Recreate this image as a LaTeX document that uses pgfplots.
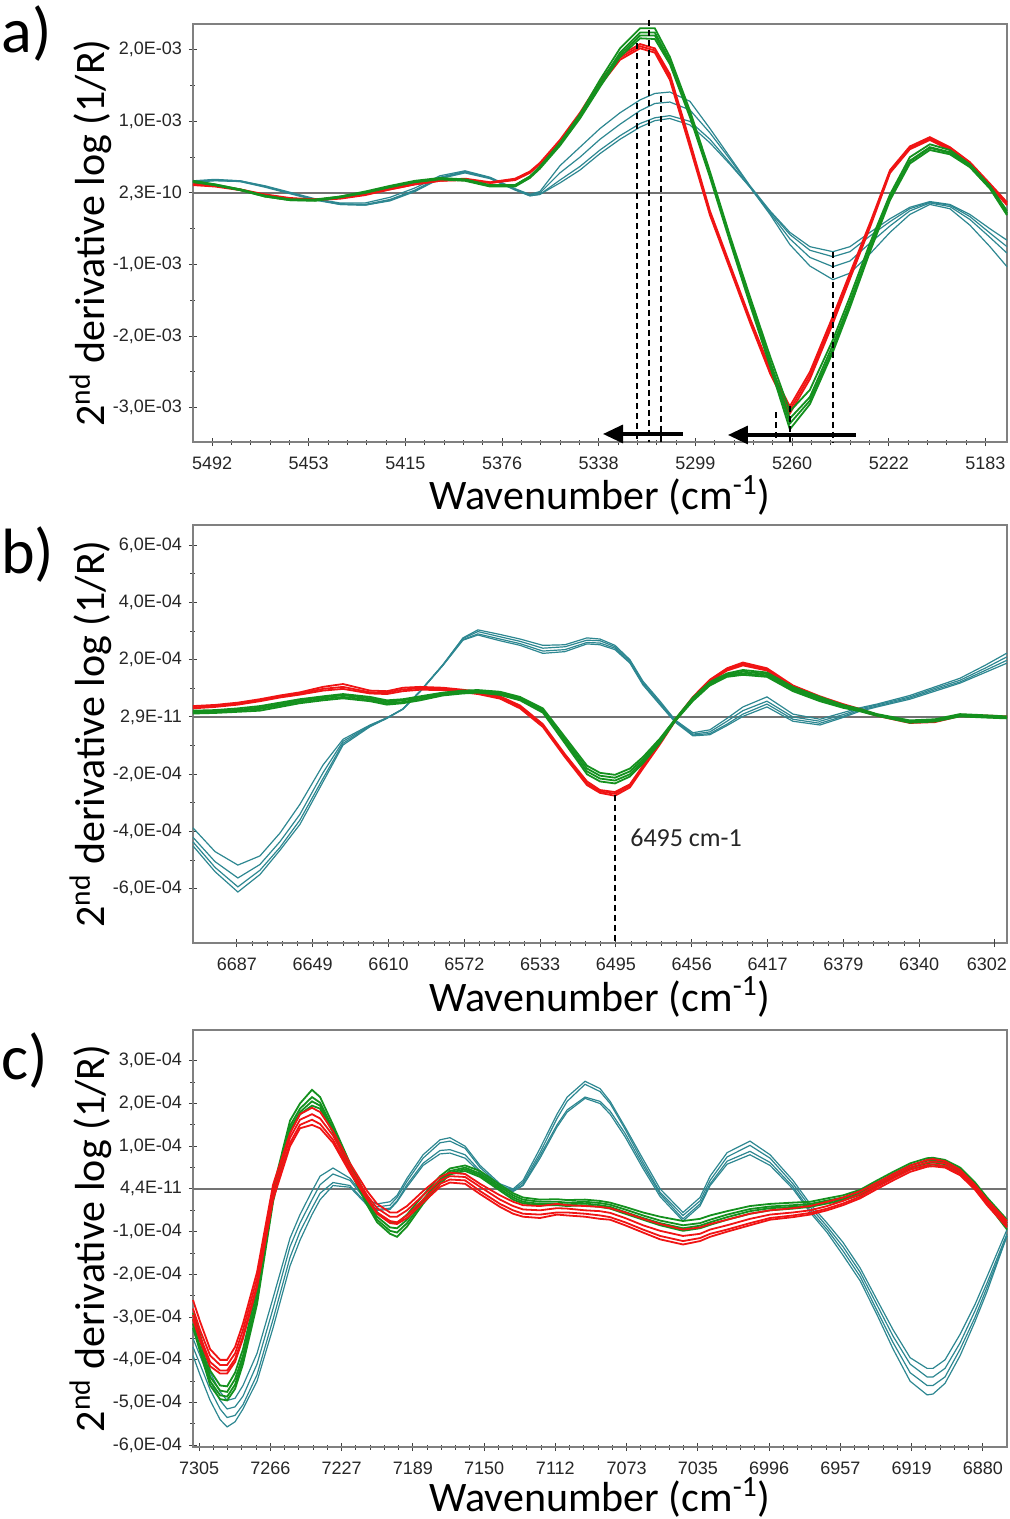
\documentclass[border=0pt]{standalone}
\usepackage{fontspec}
\setmainfont{Liberation Sans}
\newfontfamily\carlito{Carlito}
\usepackage{pgfplots}
\pgfplotsset{compat=1.18}
\usepackage{pgfplotstable}
\usetikzlibrary{arrows.meta}

\definecolor{specteal}{RGB}{45,135,145}
\definecolor{specred}{RGB}{240,20,20}
\definecolor{specgreen}{RGB}{20,145,30}

% panel a: y in 1E-03, columns t = teal, r = red, g = green
\pgfplotstableread{
w      t1    t2    t3    t4    r1    r2    r3    g1    g2    g3    g4
5499.6 0.17  0.16  0.15  0.16  0.13  0.12  0.11  0.17  0.16  0.15  0.16
5490.8 0.19  0.18  0.17  0.18  0.10  0.10  0.09  0.12  0.11  0.11  0.12
5480.8 0.17  0.17  0.16  0.16  0.05  0.05  0.04  0.05  0.04  0.04  0.05
5470.8 0.10  0.09  0.09  0.08  -0.02 -0.03 -0.03 -0.04 -0.05 -0.05 -0.04
5460.9 0.01  0.00  0.00  -0.01 -0.07 -0.08 -0.08 -0.09 -0.10 -0.10 -0.09
5450.9 -0.08 -0.09 -0.09 -0.10 -0.09 -0.09 -0.10 -0.09 -0.10 -0.11 -0.10
5440.9 -0.14 -0.15 -0.16 -0.16 -0.07 -0.07 -0.08 -0.05 -0.06 -0.06 -0.05
5430.9 -0.14 -0.16 -0.17 -0.17 -0.02 -0.02 -0.03 0.02  0.01  0.00  0.01
5420.9 -0.06 -0.09 -0.10 -0.11 0.06  0.05  0.05  0.10  0.09  0.08  0.09
5411.0 0.07  0.04  0.03  0.02  0.13  0.12  0.12  0.17  0.16  0.15  0.16
5401.0 0.24  0.22  0.21  0.20  0.18  0.17  0.17  0.21  0.20  0.19  0.20
5391.0 0.31  0.30  0.29  0.28  0.20  0.19  0.18  0.19  0.18  0.17  0.18
5381.0 0.22  0.21  0.21  0.20  0.15  0.14  0.14  0.11  0.10  0.09  0.10
5371.0 0.06  0.05  0.05  0.04  0.20  0.19  0.18  0.11  0.10  0.09  0.11
5365.1 -0.02 -0.03 -0.04 -0.04 0.30  0.29  0.28  0.23  0.22  0.21  0.23
5361.1 0.02  0.00  -0.02 -0.02 0.42  0.41  0.40  0.37  0.36  0.34  0.36
5353.1 0.38  0.28  0.18  0.14  0.74  0.72  0.70  0.70  0.68  0.66  0.68
5345.1 0.64  0.50  0.37  0.32  1.12  1.10  1.08  1.10  1.07  1.04  1.06
5337.1 0.90  0.75  0.60  0.55  1.56  1.53  1.50  1.58  1.53  1.48  1.52
5329.1 1.12  0.96  0.80  0.75  1.92  1.89  1.86  2.02  1.96  1.90  1.93
5321.1 1.30  1.15  0.97  0.92  2.08  2.05  2.02  2.30  2.24  2.16  2.20
5315.2 1.39  1.25  1.05  1.01  2.02  1.99  1.96  2.30  2.24  2.15  2.20
5309.2 1.41  1.27  1.08  1.04  1.66  1.62  1.58  1.90  1.85  1.80  1.83
5301.2 1.28  1.16  1.00  0.95  0.72  0.68  0.64  1.15  1.10  1.06  1.09
5293.2 0.90  0.84  0.75  0.70  -0.25 -0.28 -0.31 0.30  0.26  0.22  0.25
5285.2 0.50  0.47  0.42  0.40  -1.00 -1.03 -1.06 -0.60 -0.63 -0.68 -0.65
5277.2 0.10  0.09  0.08  0.08  -1.75 -1.78 -1.81 -1.45 -1.50 -1.56 -1.53
5269.2 -0.25 -0.26 -0.28 -0.30 -2.45 -2.48 -2.52 -2.28 -2.35 -2.42 -2.38
5261.3 -0.55 -0.58 -0.64 -0.72 -2.98 -3.03 -3.08 -3.05 -3.15 -3.30 -3.22
5253.3 -0.75 -0.80 -0.90 -1.02 -2.50 -2.55 -2.60 -2.75 -2.85 -2.95 -2.90
5244.1 -0.82 -0.89 -1.03 -1.21 -1.72 -1.77 -1.82 -2.05 -2.12 -2.22 -2.18
5237.3 -0.75 -0.82 -0.95 -1.12 -1.12 -1.16 -1.20 -1.45 -1.52 -1.60 -1.56
5229.3 -0.55 -0.60 -0.70 -0.85 -0.42 -0.45 -0.48 -0.70 -0.76 -0.82 -0.78
5221.3 -0.36 -0.40 -0.46 -0.55 0.32  0.30  0.28  -0.02 -0.06 -0.10 -0.07
5213.4 -0.20 -0.22 -0.25 -0.30 0.65  0.63  0.61  0.50  0.45  0.41  0.44
5205.4 -0.12 -0.13 -0.14 -0.16 0.78  0.76  0.74  0.68  0.64  0.60  0.63
5197.4 -0.16 -0.17 -0.19 -0.22 0.64  0.62  0.60  0.60  0.57  0.54  0.56
5189.4 -0.30 -0.33 -0.37 -0.45 0.43  0.41  0.39  0.40  0.38  0.36  0.37
5181.4 -0.50 -0.56 -0.62 -0.75 0.13  0.11  0.09  0.10  0.08  0.06  0.07
5174.6 -0.66 -0.75 -0.84 -1.03 -0.13 -0.15 -0.17 -0.25 -0.28 -0.31 -0.29
}\tabA

% panel b: y in 1E-04
\pgfplotstableread{
w      t1    t2    t3    t4    r1    r2    r3    g1    g2    g3    g4
6709.3 -3.87 -4.20 -4.36 -4.50 0.38  0.33  0.30  0.22  0.18  0.15  0.12
6698.1 -4.70 -5.05 -5.25 -5.40 0.42  0.38  0.35  0.24  0.20  0.17  0.14
6686.5 -5.17 -5.62 -5.93 -6.11 0.50  0.46  0.43  0.30  0.25  0.22  0.18
6675.3 -4.85 -5.15 -5.35 -5.50 0.62  0.58  0.55  0.38  0.33  0.28  0.22
6665.1 -4.05 -4.35 -4.55 -4.65 0.75  0.71  0.68  0.50  0.45  0.40  0.35
6655.0 -3.05 -3.40 -3.60 -3.75 0.86  0.82  0.78  0.62  0.58  0.53  0.48
6643.3 -1.68 -1.95 -2.15 -2.27 1.05  0.98  0.92  0.72  0.68  0.63  0.58
6633.1 -0.78 -0.85 -0.92 -0.98 1.15  1.05  0.98  0.80  0.76  0.70  0.65
6619.4 -0.28 -0.30 -0.32 -0.34 0.92  0.86  0.82  0.70  0.65  0.60  0.55
6610.8 -0.03 -0.03 -0.04 -0.05 0.90  0.85  0.80  0.58  0.53  0.48  0.43
6602.7 0.28  0.28  0.27  0.27  1.02  0.96  0.90  0.62  0.58  0.52  0.48
6594.0 0.90  0.90  0.88  0.88  1.05  1.00  0.95  0.72  0.68  0.63  0.58
6582.4 1.82  1.82  1.80  1.80  1.02  0.98  0.94  0.85  0.82  0.78  0.75
6572.2 2.76  2.74  2.70  2.68  0.95  0.90  0.86  0.92  0.88  0.85  0.82
6564.6 3.04  2.98  2.90  2.86  0.88  0.84  0.80  0.94  0.91  0.88  0.85
6553.4 2.88  2.80  2.72  2.66  0.72  0.68  0.64  0.88  0.84  0.80  0.77
6543.2 2.72  2.64  2.56  2.50  0.40  0.35  0.30  0.70  0.66  0.62  0.58
6531.6 2.50  2.40  2.30  2.22  -0.25 -0.30 -0.35 0.30  0.25  0.20  0.15
6520.4 2.52  2.45  2.35  2.28  -1.30 -1.35 -1.40 -0.70 -0.78 -0.85 -0.92
6509.2 2.76  2.68  2.60  2.55  -2.25 -2.32 -2.38 -1.70 -1.80 -1.90 -2.00
6502.6 2.72  2.66  2.58  2.52  -2.55 -2.60 -2.65 -1.95 -2.05 -2.15 -2.25
6495.0 2.50  2.45  2.40  2.35  -2.62 -2.68 -2.75 -2.02 -2.12 -2.22 -2.32
6487.4 2.00  1.95  1.90  1.88  -2.35 -2.40 -2.46 -1.80 -1.90 -2.00 -2.08
6480.8 1.25  1.20  1.15  1.12  -1.70 -1.75 -1.80 -1.40 -1.48 -1.55 -1.62
6472.1 0.55  0.50  0.45  0.42  -0.85 -0.90 -0.95 -0.75 -0.80 -0.85 -0.90
6464.5 -0.10 -0.12 -0.15 -0.18 -0.10 -0.12 -0.15 -0.08 -0.10 -0.12 -0.15
6455.4 -0.55 -0.60 -0.63 -0.66 0.70  0.66  0.62  0.68  0.64  0.60  0.56
6446.8 -0.45 -0.52 -0.58 -0.62 1.30  1.27  1.24  1.22  1.18  1.14  1.10
6438.1 -0.05 -0.15 -0.25 -0.30 1.70  1.66  1.62  1.52  1.48  1.44  1.40
6430.0 0.35  0.22  0.10  0.02  1.90  1.85  1.80  1.64  1.58  1.52  1.47
6417.8 0.70  0.55  0.45  0.35  1.70  1.66  1.62  1.55  1.50  1.45  1.40
6404.6 0.10  0.00  -0.08 -0.15 1.10  1.05  1.00  1.05  1.00  0.95  0.90
6390.9 -0.08 -0.15 -0.22 -0.28 0.72  0.68  0.64  0.70  0.65  0.60  0.55
6379.2 0.15  0.08  0.02  -0.02 0.45  0.41  0.38  0.42  0.38  0.35  0.32
6370.6 0.32  0.28  0.24  0.20  0.28  0.25  0.22  0.28  0.25  0.22  0.20
6361.9 0.45  0.42  0.38  0.35  0.08  0.06  0.04  0.10  0.08  0.06  0.04
6345.2 0.75  0.70  0.66  0.62  -0.15 -0.18 -0.21 -0.12 -0.15 -0.18 -0.20
6332.5 1.05  1.00  0.95  0.90  -0.12 -0.15 -0.18 -0.08 -0.11 -0.14 -0.16
6319.8 1.35  1.28  1.22  1.18  0.08  0.05  0.03  0.10  0.07  0.04  0.02
6307.1 1.80  1.70  1.62  1.55  0.05  0.02  0.00  0.06  0.03  0.00  -0.02
6295.9 2.23  2.10  1.98  1.88  0.02  -0.01 -0.03 0.02  -0.01 -0.03 -0.05
}\tabB

% panel c: y in 1E-04
\pgfplotstableread{
w      t1    t2    t3    t4    r1    r2    r3    r4    g1    g2    g3    g4
7308.3 -3.30 -3.50 -3.70 -3.90 -2.60 -2.80 -2.95 -3.05 -2.90 -3.05 -3.15 -3.25
7304.5 -3.70 -3.90 -4.10 -4.35 -3.10 -3.30 -3.45 -3.55 -3.40 -3.55 -3.70 -3.80
7299.0 -4.30 -4.50 -4.70 -4.95 -3.75 -3.90 -4.05 -4.15 -4.25 -4.40 -4.50 -4.60
7293.6 -4.75 -4.95 -5.15 -5.40 -4.00 -4.12 -4.25 -4.32 -4.60 -4.72 -4.83 -4.92
7289.8 -4.95 -5.15 -5.35 -5.57 -4.00 -4.12 -4.25 -4.32 -4.62 -4.75 -4.86 -4.95
7285.5 -4.90 -5.10 -5.30 -5.45 -3.70 -3.85 -3.98 -4.05 -4.30 -4.45 -4.58 -4.68
7281.2 -4.60 -4.85 -5.05 -5.15 -3.15 -3.30 -3.45 -3.50 -3.75 -3.90 -4.00 -4.10
7273.6 -3.85 -4.10 -4.35 -4.50 -1.95 -2.10 -2.25 -2.30 -2.35 -2.50 -2.60 -2.70
7264.9 -2.55 -2.80 -3.05 -3.25 0.10  -0.05 -0.20 -0.25 0.00  -0.15 -0.25 -0.30
7255.7 -1.15 -1.35 -1.60 -1.80 1.30  1.20  1.08  1.00  1.60  1.48  1.40  1.35
7250.3 -0.60 -0.80 -1.00 -1.20 1.75  1.62  1.50  1.42  2.00  1.88  1.80  1.75
7243.8 -0.05 -0.25 -0.45 -0.60 1.90  1.75  1.62  1.50  2.32  2.15  2.05  1.95
7239.4 0.30  0.10  -0.10 -0.25 1.80  1.65  1.52  1.42  2.15  2.02  1.95  1.88
7232.4 0.49  0.35  0.15  0.08  1.35  1.25  1.15  1.08  1.50  1.42  1.38  1.32
7223.2 0.25  0.20  0.08  0.04  0.60  0.50  0.42  0.38  0.60  0.52  0.48  0.42
7213.9 -0.25 -0.30 -0.35 -0.38 -0.05 -0.15 -0.22 -0.25 -0.20 -0.28 -0.32 -0.38
7208.5 -0.35 -0.42 -0.48 -0.50 -0.35 -0.45 -0.55 -0.58 -0.55 -0.65 -0.72 -0.78
7201.5 -0.30 -0.38 -0.45 -0.48 -0.55 -0.65 -0.75 -0.80 -0.78 -0.90 -0.98 -1.05
7197.7 -0.15 -0.20 -0.28 -0.30 -0.55 -0.65 -0.78 -0.82 -0.80 -0.92 -1.02 -1.12
7192.3 0.25  0.18  0.10  0.05  -0.40 -0.50 -0.62 -0.68 -0.60 -0.72 -0.80 -0.88
7183.6 0.80  0.72  0.60  0.55  -0.05 -0.15 -0.25 -0.32 -0.15 -0.25 -0.30 -0.35
7174.4 1.15  1.08  0.90  0.82  0.28  0.20  0.12  0.05  0.30  0.22  0.18  0.12
7169.0 1.20  1.12  0.92  0.84  0.38  0.30  0.22  0.15  0.48  0.42  0.38  0.34
7160.8 1.00  0.95  0.80  0.72  0.35  0.28  0.20  0.12  0.55  0.50  0.46  0.42
7152.7 0.55  0.50  0.42  0.38  0.12  0.05  -0.05 -0.12 0.42  0.36  0.32  0.28
7141.9 0.12  0.08  0.04  0.02  -0.15 -0.25 -0.35 -0.42 0.10  0.05  0.00  -0.04
7134.8 0.00  -0.03 -0.05 -0.06 -0.30 -0.40 -0.50 -0.58 -0.10 -0.15 -0.20 -0.25
7129.4 0.20  0.15  0.10  0.08  -0.38 -0.48 -0.58 -0.65 -0.20 -0.25 -0.30 -0.34
7120.2 0.95  0.85  0.78  0.72  -0.40 -0.50 -0.60 -0.68 -0.25 -0.30 -0.35 -0.38
7111.0 1.75  1.65  1.50  1.45  -0.35 -0.45 -0.55 -0.60 -0.24 -0.30 -0.35 -0.38
7105.5 2.15  2.05  1.85  1.80  -0.38 -0.46 -0.55 -0.62 -0.26 -0.32 -0.36 -0.40
7095.8 2.52  2.45  2.15  2.12  -0.40 -0.50 -0.58 -0.65 -0.25 -0.30 -0.34 -0.38
7087.7 2.35  2.28  2.05  2.00  -0.42 -0.52 -0.62 -0.70 -0.28 -0.33 -0.38 -0.42
7082.2 2.05  2.00  1.82  1.75  -0.45 -0.56 -0.66 -0.72 -0.32 -0.37 -0.42 -0.46
7074.1 1.45  1.40  1.30  1.22  -0.55 -0.68 -0.78 -0.85 -0.42 -0.48 -0.54 -0.58
7064.4 0.70  0.62  0.55  0.48  -0.70 -0.85 -0.95 -1.02 -0.55 -0.62 -0.68 -0.72
7055.1 0.00  -0.08 -0.12 -0.18 -0.82 -0.98 -1.10 -1.18 -0.65 -0.74 -0.80 -0.85
7042.7 -0.55 -0.62 -0.70 -0.75 -0.95 -1.10 -1.22 -1.30 -0.75 -0.85 -0.92 -0.98
7033.5 -0.20 -0.28 -0.35 -0.40 -0.90 -1.05 -1.15 -1.22 -0.70 -0.80 -0.86 -0.92
7028.0 0.30  0.20  0.12  0.08  -0.82 -0.95 -1.05 -1.12 -0.62 -0.72 -0.78 -0.84
7018.8 0.85  0.75  0.65  0.58  -0.72 -0.85 -0.95 -1.00 -0.52 -0.60 -0.66 -0.72
7006.4 1.12  1.02  0.88  0.80  -0.58 -0.70 -0.80 -0.85 -0.40 -0.47 -0.52 -0.58
6995.5 0.80  0.72  0.62  0.55  -0.50 -0.60 -0.68 -0.72 -0.35 -0.41 -0.45 -0.50
6983.1 0.20  0.12  0.05  0.00  -0.45 -0.55 -0.62 -0.66 -0.32 -0.38 -0.42 -0.46
6973.8 -0.35 -0.42 -0.50 -0.55 -0.40 -0.50 -0.56 -0.60 -0.30 -0.35 -0.39 -0.42
6964.6 -0.80 -0.88 -0.95 -1.02 -0.30 -0.40 -0.46 -0.50 -0.22 -0.27 -0.30 -0.34
6956.0 -1.25 -1.35 -1.45 -1.55 -0.20 -0.28 -0.34 -0.38 -0.15 -0.20 -0.24 -0.27
6946.7 -1.85 -1.95 -2.05 -2.15 -0.05 -0.12 -0.18 -0.22 -0.02 -0.06 -0.10 -0.14
6937.5 -2.60 -2.72 -2.85 -2.95 0.15  0.10  0.05  0.00  0.20  0.15  0.10  0.06
6928.8 -3.30 -3.45 -3.60 -3.75 0.35  0.30  0.25  0.20  0.40  0.35  0.30  0.26
6919.6 -3.95 -4.10 -4.30 -4.50 0.55  0.50  0.45  0.40  0.60  0.55  0.50  0.46
6910.4 -4.20 -4.40 -4.60 -4.82 0.68  0.62  0.56  0.52  0.72  0.66  0.60  0.55
6907.2 -4.20 -4.40 -4.60 -4.80 0.70  0.64  0.58  0.53  0.73  0.67  0.62  0.57
6900.7 -4.00 -4.20 -4.40 -4.55 0.65  0.60  0.54  0.50  0.68  0.63  0.58  0.53
6892.5 -3.40 -3.60 -3.75 -3.90 0.45  0.40  0.35  0.32  0.50  0.46  0.42  0.38
6884.4 -2.70 -2.85 -3.00 -3.10 0.10  0.05  0.00  -0.02 0.15  0.10  0.06  0.02
6877.9 -2.05 -2.20 -2.30 -2.40 -0.25 -0.30 -0.35 -0.38 -0.20 -0.26 -0.30 -0.34
6867.1 -0.95 -1.05 -1.10 -1.10 -0.75 -0.80 -0.85 -0.90 -0.72 -0.80 -0.88 -0.95
}\tabC

\tikzset{
  dashline/.style={black, line width=0.8pt, dash pattern=on 3pt off 2pt},
  zeroline/.style={black!55, line width=0.7pt},
  bigarrow/.style={line width=1.6pt, -{Triangle[length=10pt,width=9pt]}},
}

\pgfplotsset{
  panel/.style={
    scale only axis, width=407pt, anchor=north west,
    x dir=reverse, clip=false,
    axis line style={black!50, line width=0.8pt},
    xtick pos=left, ytick pos=left,
    tick align=center,
    major tick length=4pt, minor tick length=2.5pt,
    every tick/.style={black!75, line width=0.5pt},
    minor x tick num=4, minor y tick num=1,
    tick label style={font=\fontsize{9}{10}\selectfont, text=black!85},
    xticklabel style={yshift=-2pt},
    label style={font=\carlito\fontsize{21}{24}\selectfont},
    xlabel={Wavenumber (cm\textsuperscript{-1})},
    ylabel={2\textsuperscript{nd} derivative log (1/R)},
    ylabel style={at={(axis description cs:-0.1255,0.5)}, anchor=center},
  },
  tealline/.style={specteal, line width=0.6pt},
  redline/.style={specred, line width=0.9pt},
  greenline/.style={specgreen, line width=0.9pt},
}

\begin{document}
\begin{tikzpicture}
\useasboundingbox (0,0) rectangle (505pt,-759.5pt);

% ---------------- a) ----------------
\begin{axis}[panel, at={(96.5pt,-12pt)}, height=209pt,
  xmin=5174.6, xmax=5499.6, ymin=-3.478, ymax=2.36,
  xtick={5492,5453.4,5414.8,5376.2,5337.6,5299.0,5260.4,5221.8,5183.2},
  xticklabels={5492,5453,5415,5376,5338,5299,5260,5222,5183},
  ytick={-3,-2,-1,0,1,2},
  yticklabels={{-3,0E-03},{-2,0E-03},{-1,0E-03},{2,3E-10},{1,0E-03},{2,0E-03}},
  xlabel style={at={(axis description cs:0.5,-0.1268)}, anchor=center}]
\draw[zeroline] (axis cs:5499.6,0) -- (axis cs:5174.6,0);
\pgfplotsinvokeforeach{t1,t2,t3,t4}{\addplot[tealline] table[x=w,y=#1] {\tabA};}
\pgfplotsinvokeforeach{r1,r2,r3}{\addplot[redline] table[x=w,y=#1] {\tabA};}
\pgfplotsinvokeforeach{g1,g2,g3,g4}{\addplot[greenline] table[x=w,y=#1] {\tabA};}
\draw[dashline] (axis cs:5322.3,2.09) -- (axis cs:5322.3,-3.478);
\draw[dashline] (axis cs:5317.5,2.42) -- (axis cs:5317.5,-3.478);
\draw[dashline] (axis cs:5312.7,1.36) -- (axis cs:5312.7,-3.478);
\draw[dashline] (axis cs:5266.9,-3.06) -- (axis cs:5266.9,-3.478);
\draw[dashline] (axis cs:5261.3,-2.98) -- (axis cs:5261.3,-3.478);
\draw[dashline] (axis cs:5244.1,-0.82) -- (axis cs:5244.1,-3.478);
\draw[bigarrow] (axis cs:5304.0,-3.366) -- (axis cs:5335.9,-3.366);
\draw[bigarrow] (axis cs:5234.9,-3.38) -- (axis cs:5286.0,-3.38);
\end{axis}

% ---------------- b) ----------------
\begin{axis}[panel, at={(96.5pt,-262.5pt)}, height=209pt,
  xmin=6295.9, xmax=6709.3, ymin=-7.89, ymax=6.70,
  xtick={6687,6648.5,6610,6571.5,6533,6494.5,6456,6417.5,6379,6340.5},
  xticklabels={6687,6649,6610,6572,6533,6495,6456,6417,6379,6340},
  extra x ticks={6302}, extra x tick labels={6302},
  extra x tick style={grid=none, xticklabel style={xshift=-4pt}},
  ytick={-6,-4,-2,0,2,4,6},
  yticklabels={{-6,0E-04},{-4,0E-04},{-2,0E-04},{2,9E-11},{2,0E-04},{4,0E-04},{6,0E-04}},
  xlabel style={at={(axis description cs:0.5,-0.129)}, anchor=center}]
\draw[zeroline] (axis cs:6709.3,0) -- (axis cs:6295.9,0);
\pgfplotsinvokeforeach{t1,t2,t3,t4}{\addplot[tealline] table[x=w,y=#1] {\tabB};}
\pgfplotsinvokeforeach{r1,r2,r3}{\addplot[redline] table[x=w,y=#1] {\tabB};}
\pgfplotsinvokeforeach{g1,g2,g3,g4}{\addplot[greenline] table[x=w,y=#1] {\tabB};}
\draw[dashline] (axis cs:6495,-2.72) -- (axis cs:6495,-7.89);
\node[anchor=west, inner sep=0pt, font=\carlito\fontsize{13}{15}\selectfont, text=black!85]
  at (axis cs:6487.4,-4.22) {6495 cm-1};
\end{axis}

% ---------------- c) ----------------
\begin{axis}[panel, at={(96.5pt,-515pt)}, height=208.5pt,
  xmin=6867.1, xmax=7308.3, ymin=-6.04, ymax=3.72,
  xtick={7305,7266.38,7227.76,7189.14,7150.52,7111.9,7073.28,7034.66,6996.04,6957.42,6918.8,6880.18},
  xticklabels={7305,7266,7227,7189,7150,7112,7073,7035,6996,6957,6919,6880},
  ytick={-6,-5,-4,-3,-2,-1,0,1,2,3},
  yticklabels={{-6,0E-04},{-5,0E-04},{-4,0E-04},{-3,0E-04},{-2,0E-04},{-1,0E-04},{4,4E-11},{1,0E-04},{2,0E-04},{3,0E-04}},
  xlabel style={at={(axis description cs:0.5,-0.12)}, anchor=center}]
\draw[zeroline] (axis cs:7308.3,0) -- (axis cs:6867.1,0);
\pgfplotsinvokeforeach{t1,t2,t3,t4}{\addplot[tealline] table[x=w,y=#1] {\tabC};}
\pgfplotsinvokeforeach{g1,g2,g3,g4}{\addplot[greenline] table[x=w,y=#1] {\tabC};}
\pgfplotsinvokeforeach{r1,r2,r3,r4}{\addplot[redline] table[x=w,y=#1] {\tabC};}
\end{axis}

% panel letters
\node[anchor=base west, inner sep=0pt, font=\carlito\fontsize{32}{36}\selectfont] at (0.5pt,-26.5pt) {a)};
\node[anchor=base west, inner sep=0pt, font=\carlito\fontsize{32}{36}\selectfont] at (0.5pt,-286.5pt) {b)};
\node[anchor=base west, inner sep=0pt, font=\carlito\fontsize{32}{36}\selectfont] at (0.5pt,-539.5pt) {c)};
\end{tikzpicture}
\end{document}
